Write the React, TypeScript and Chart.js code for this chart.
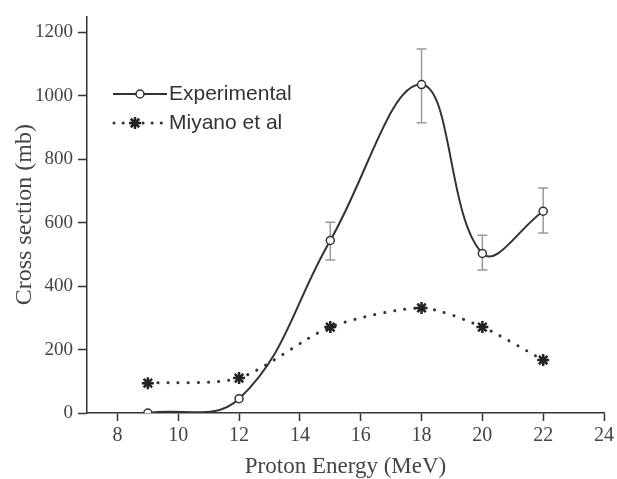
import React, { useEffect, useRef } from 'react';
import { Chart, registerables } from 'chart.js';

Chart.register(...registerables);

// ---- data ----
const energies = [9, 12, 15, 18, 20, 22];
const experimental = [0, 45, 544, 1035, 503, 636];
const expErrLow: (number | null)[] = [null, null, 482, 915, 451, 567];
const expErrHigh: (number | null)[] = [null, null, 601, 1147, 560, 709];
const miyano = [94, 110, 271, 331, 271, 167];
const xTicks = [8, 10, 12, 14, 16, 18, 20, 22, 24];
const yTicks = [0, 200, 400, 600, 800, 1000, 1200];
const seriesNames = ['Experimental', 'Miyano et al'];
const xTitle = 'Proton Energy (MeV)';
const yTitle = 'Cross section (mb)';

const SERIF = '"Liberation Serif", "DejaVu Serif", serif';
const SANS = '"Liberation Sans", Arial, sans-serif';

function drawStar(ctx: CanvasRenderingContext2D, x: number, y: number, r: number) {
  ctx.beginPath();
  for (let k = 0; k < 4; k++) {
    const a = (k * Math.PI) / 4;
    ctx.moveTo(x - r * Math.cos(a), y - r * Math.sin(a));
    ctx.lineTo(x + r * Math.cos(a), y + r * Math.sin(a));
  }
  ctx.stroke();
}

const errorBarPlugin = {
  id: 'errorBars',
  beforeDatasetsDraw(chart: any) {
    const ctx = chart.ctx;
    const xs = chart.scales.x;
    const ys = chart.scales.y;
    ctx.save();
    ctx.strokeStyle = '#9a9a9a';
    ctx.lineWidth = 1.5;
    energies.forEach((e, i) => {
      const lo = expErrLow[i];
      const hi = expErrHigh[i];
      if (lo == null || hi == null) return;
      const px = xs.getPixelForValue(e);
      const pLo = ys.getPixelForValue(lo);
      const pHi = ys.getPixelForValue(hi);
      ctx.beginPath();
      ctx.moveTo(px, pLo);
      ctx.lineTo(px, pHi);
      ctx.moveTo(px - 5, pLo);
      ctx.lineTo(px + 5, pLo);
      ctx.moveTo(px - 5, pHi);
      ctx.lineTo(px + 5, pHi);
      ctx.stroke();
    });
    ctx.restore();
  },
};

const legendPlugin = {
  id: 'insetLegend',
  afterDraw(chart: any) {
    const ctx = chart.ctx;
    ctx.save();
    // Experimental
    const y1 = 94;
    ctx.strokeStyle = '#333';
    ctx.lineWidth = 2;
    ctx.beginPath();
    ctx.moveTo(113, y1);
    ctx.lineTo(167, y1);
    ctx.stroke();
    ctx.beginPath();
    ctx.arc(140, y1, 4, 0, Math.PI * 2);
    ctx.fillStyle = '#fff';
    ctx.fill();
    ctx.lineWidth = 1.5;
    ctx.stroke();
    // Miyano
    const y2 = 123;
    ctx.lineWidth = 3;
    ctx.lineCap = 'round';
    ctx.setLineDash([0.1, 9]);
    ctx.beginPath();
    ctx.moveTo(114, y2);
    ctx.lineTo(126, y2);
    ctx.moveTo(143, y2);
    ctx.lineTo(167, y2);
    ctx.stroke();
    ctx.setLineDash([]);
    ctx.lineCap = 'butt';
    ctx.lineWidth = 2.5;
    ctx.strokeStyle = '#222';
    drawStar(ctx, 135, y2, 6);
    // texts
    ctx.fillStyle = '#333';
    ctx.font = `21px ${SANS}`;
    ctx.textBaseline = 'middle';
    ctx.textAlign = 'left';
    ctx.fillText(seriesNames[0], 169, y1);
    ctx.fillText(seriesNames[1], 169, y2);
    ctx.restore();
  },
};

export default function App() {
  const ref = useRef<HTMLCanvasElement | null>(null);

  useEffect(() => {
    if (!ref.current) return;
    const chart = new Chart(ref.current, {
      type: 'line',
      data: {
        datasets: [
          {
            label: seriesNames[0],
            data: energies.map((x, i) => ({ x, y: experimental[i] })),
            borderColor: '#333',
            borderWidth: 2,
            tension: 0.4,
            pointStyle: 'circle',
            pointRadius: 4,
            pointBackgroundColor: '#fff',
            pointBorderColor: '#333',
            pointBorderWidth: 1.5,
            clip: 0,
          } as any,
          {
            label: seriesNames[1],
            data: energies.map((x, i) => ({ x, y: miyano[i] })),
            borderColor: '#333',
            borderWidth: 3,
            borderDash: [0.1, 10],
            borderCapStyle: 'round',
            tension: 0.25,
            pointStyle: 'star',
            pointRadius: 6,
            pointBorderWidth: 2.5,
            pointBorderColor: '#222',
            pointBackgroundColor: '#222',
          } as any,
        ],
      },
      options: {
        responsive: false,
        animation: false,
        devicePixelRatio: 1,
        elements: { line: { capBezierPoints: false } },
        layout: { padding: { top: 12, right: 13, left: 0, bottom: 0 } },
        plugins: {
          legend: { display: false },
          tooltip: { enabled: false },
        },
        scales: {
          x: {
            type: 'linear',
            min: 7,
            max: 24,
            afterBuildTicks: (s: any) => {
              s.ticks = xTicks.map((v) => ({ value: v }));
            },
            afterFit: (s: any) => {
              s.height = 66;
            },
            border: { display: true, color: '#333', width: 1.5 },
            grid: {
              drawOnChartArea: false,
              drawTicks: true,
              tickLength: 8,
              tickColor: '#333',
              tickWidth: 1.5,
            },
            ticks: {
              font: { family: SERIF, size: 20 },
              color: '#444',
              padding: 3,
              maxRotation: 0,
              autoSkip: false,
              callback: (v: any) => String(v),
            },
            title: {
              display: true,
              text: xTitle,
              font: { family: SERIF, size: 23, lineHeight: 1 },
              color: '#444',
              padding: { top: 0, bottom: 1 },
            },
          },
          y: {
            type: 'linear',
            min: 0,
            max: 1250,
            afterBuildTicks: (s: any) => {
              s.ticks = yTicks.map((v) => ({ value: v }));
            },
            afterFit: (s: any) => {
              s.width = 87;
            },
            border: { display: true, color: '#333', width: 1.5 },
            grid: {
              drawOnChartArea: false,
              drawTicks: true,
              tickLength: 9,
              tickColor: '#333',
              tickWidth: 1.5,
            },
            ticks: {
              font: { family: SERIF, size: 19 },
              color: '#444',
              padding: 5,
              autoSkip: false,
              callback: (v: any) => String(v),
            },
            title: {
              display: true,
              text: yTitle,
              font: { family: SERIF, size: 24 },
              color: '#444',
              padding: { top: 10, bottom: 0 },
            },
          },
        },
      } as any,
      plugins: [errorBarPlugin, legendPlugin],
    });
    return () => chart.destroy();
  }, []);

  return (
    <div style={{ position: 'fixed', left: 0, top: 0, width: 617, height: 479, background: '#fff' }}>
      <canvas ref={ref} width={617} height={479} style={{ display: 'block' }} />
    </div>
  );
}
